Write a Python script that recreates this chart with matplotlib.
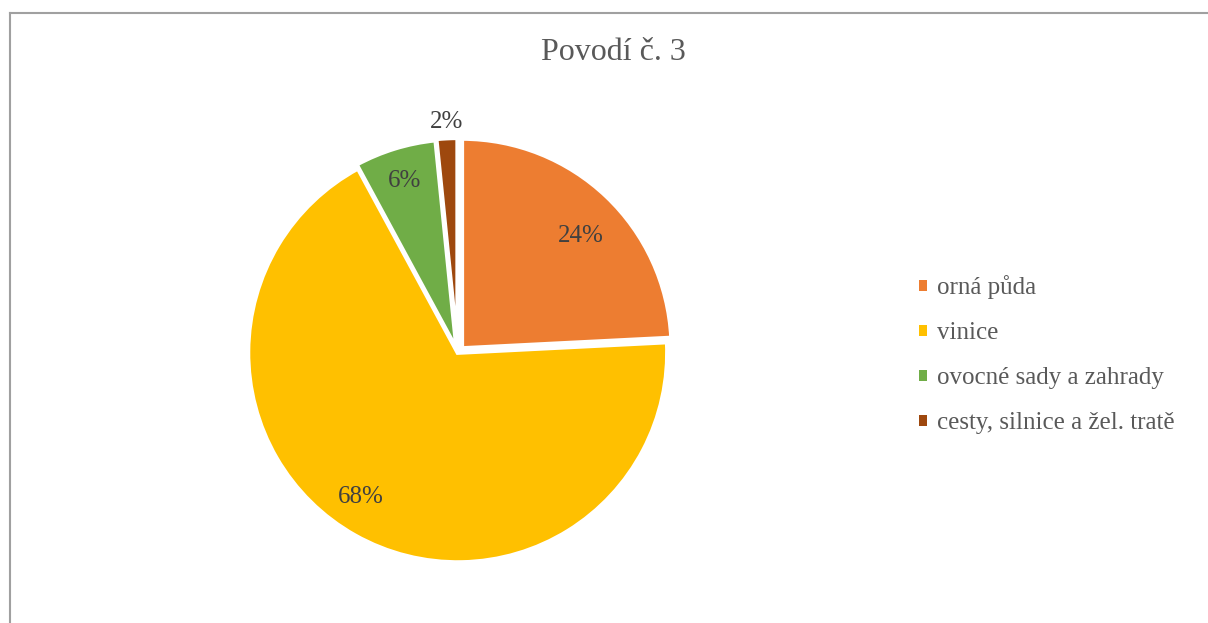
import numpy as np
import matplotlib.pyplot as plt
from matplotlib.lines import Line2D
from matplotlib.patches import Patch

# Land use shares in catchment no. 3 (%)
categories = ["orná půda", "vinice", "ovocné sady a zahrady", "cesty, silnice a žel. tratě"]
shares = [24.2, 67.9, 6.3, 1.6]
colors = ["#ED7D31", "#FFC000", "#70AD47", "#9E480E"]
explode = [0.03, 0, 0.02, 0.025]
label_dist = [0.78, 0.83, 0.84, 1.08]
label_turn = [-3.0, -4.5, 0.0, 0.0]   # degrees, nudges label along the arc

W, H = 1208, 623
fig = plt.figure(figsize=(W / 100, H / 100), dpi=100)
fig.patch.set_facecolor("white")

# chart frame (top and left edges)
frame_col = "#a0a0a0"
fig.add_artist(Line2D([9.5 / W, 1.0], [1 - 13 / H, 1 - 13 / H], color=frame_col, lw=1.5,
                      transform=fig.transFigure))
fig.add_artist(Line2D([9.5 / W, 9.5 / W], [0, 1 - 13 / H], color=frame_col, lw=1.5,
                      transform=fig.transFigure))

cx, cy, R = 457.7, 352.8, 209.5
ax = fig.add_axes([(cx - R) / W, 1 - (cy + R) / H, 2 * R / W, 2 * R / H])
ax.axis("off")

wedges, texts, autotexts = ax.pie(
    shares, colors=colors, explode=explode, startangle=90, counterclock=False,
    radius=1.0, autopct="%.0f%%",
    wedgeprops=dict(edgecolor="white", linewidth=3),
    textprops=dict(family="Liberation Serif", fontsize=18, color="#404040"),
    frame=False,
)
ax.set_xlim(-1, 1)
ax.set_ylim(-1, 1)
ax.set_aspect("auto")

for w, t, d, turn in zip(wedges, autotexts, label_dist, label_turn):
    w.set_clip_on(False)
    mid = np.deg2rad((w.theta1 + w.theta2) / 2 + turn)
    x0, y0 = w.center
    t.set_position((x0 + d * np.cos(mid), y0 + d * np.sin(mid)))
    t.set_ha("center")
    t.set_va("center")
    t.set_clip_on(False)

fig.text(613 / W, 1 - 53 / H, "Povodí č. 3", family="Liberation Serif", fontsize=23,
         color="#595959", ha="center", va="center")

handles = [Patch(facecolor=c, edgecolor="none") for c in colors]
leg = fig.legend(handles, categories, loc="center left",
                 bbox_to_anchor=(919 / W, 1 - 355 / H),
                 frameon=False, handlelength=0.33, handleheight=0.33, handletextpad=0.38,
                 labelspacing=0.92, borderpad=0, borderaxespad=0,
                 prop=dict(family="Liberation Serif", size=18))
for t in leg.get_texts():
    t.set_color("#595959")

fig.savefig("out.png", dpi=100, facecolor="white")
